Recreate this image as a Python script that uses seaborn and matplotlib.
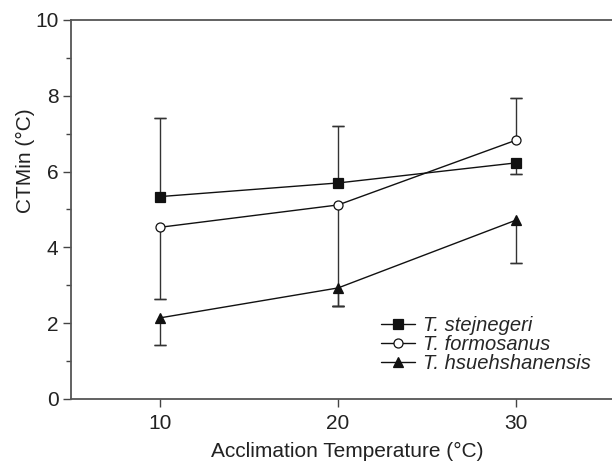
import pandas as pd
import matplotlib.pyplot as plt
import seaborn as sns

# data
temps = [10, 20, 30]
species = ['T. stejnegeri', 'T. formosanus', 'T. hsuehshanensis']
stejnegeri = [5.34, 5.70, 6.23]
formosanus = [4.53, 5.12, 6.83]
hsuehshanensis = [2.14, 2.93, 4.72]
# one-sided error bars (lower, upper)
stej_lo = [0.0, 0.0, 0.29]
stej_up = [2.08, 1.50, 0.0]
form_lo = [1.89, 2.67, 0.0]
form_up = [0.0, 0.0, 1.11]
hsue_lo = [0.72, 0.48, 1.13]
hsue_up = [0.0, 0.0, 0.0]

sns.set_style('ticks')
plt.rcParams['font.family'] = ['Liberation Sans', 'DejaVu Sans']

df = pd.DataFrame({
    'temp': temps * 3,
    'ctmin': stejnegeri + formosanus + hsuehshanensis,
    'species': [s for s in species for _ in temps],
})

fig = plt.figure(figsize=(6.12, 4.65), dpi=100)
ax = fig.add_axes([0.116, 0.142, 0.902, 0.815])

means = [stejnegeri, formosanus, hsuehshanensis]
errs = [(stej_lo, stej_up), (form_lo, form_up), (hsue_lo, hsue_up)]
for m, (lo, up) in zip(means, errs):
    # draw only the sides that have an error value
    for i, t in enumerate(temps):
        if lo[i] > 0:
            ax.errorbar([t], [m[i]], yerr=[[lo[i]], [0]], fmt='none',
                        ecolor='#333333', elinewidth=1.0, capsize=0, zorder=1)
            ax.errorbar([t], [m[i] - lo[i]], yerr=0, fmt='none',
                        ecolor='#333333', capsize=4.5, capthick=1.0, zorder=1)
        if up[i] > 0:
            ax.errorbar([t], [m[i]], yerr=[[0], [up[i]]], fmt='none',
                        ecolor='#333333', elinewidth=1.0, capsize=0, zorder=1)
            ax.errorbar([t], [m[i] + up[i]], yerr=0, fmt='none',
                        ecolor='#333333', capsize=4.5, capthick=1.0, zorder=1)

markers = {'T. stejnegeri': 's', 'T. formosanus': 'o', 'T. hsuehshanensis': '^'}
for sp, mk in markers.items():
    sub = df[df['species'] == sp]
    face = 'white' if mk == 'o' else '#111111'
    size = 7.5 if mk == '^' else 6.5
    ax.plot(sub['temp'], sub['ctmin'], color='#111111', lw=1.0, marker=mk,
            markersize=size, markerfacecolor=face, markeredgecolor='#111111',
            markeredgewidth=0.9, label=sp, zorder=3)

ax.set_xlim(5, 36)
ax.set_ylim(0, 10)
ax.set_xticks([10, 20, 30])
ax.set_yticks([0, 2, 4, 6, 8, 10])
ax.set_yticks([1, 3, 5, 7, 9], minor=True)
ax.tick_params(axis='both', which='major', direction='out', length=6,
               width=1.0, color='#444444', labelsize=15, labelcolor='#222222',
               pad=3)
ax.tick_params(axis='x', which='major', pad=5)
ax.tick_params(axis='y', which='minor', direction='out', length=3.5,
               width=1.0, color='#444444')
for side in ['left', 'bottom', 'top', 'right']:
    ax.spines[side].set_color('#555555')
    ax.spines[side].set_linewidth(1.3)

ax.set_xlabel('Acclimation Temperature (°C)', fontsize=15, color='#222222',
              labelpad=6)
ax.set_ylabel('CTMin (°C)', fontsize=15, color='#222222')
ax.yaxis.set_label_coords(-0.065, 0.628)

leg = ax.legend(loc='upper left', bbox_to_anchor=(0.562, 0.218), frameon=False,
                prop={'style': 'italic', 'size': 14.5}, handlelength=1.7,
                handletextpad=0.35, labelspacing=0.0, borderaxespad=0,
                borderpad=0)

plt.savefig('out.png', dpi=100)
